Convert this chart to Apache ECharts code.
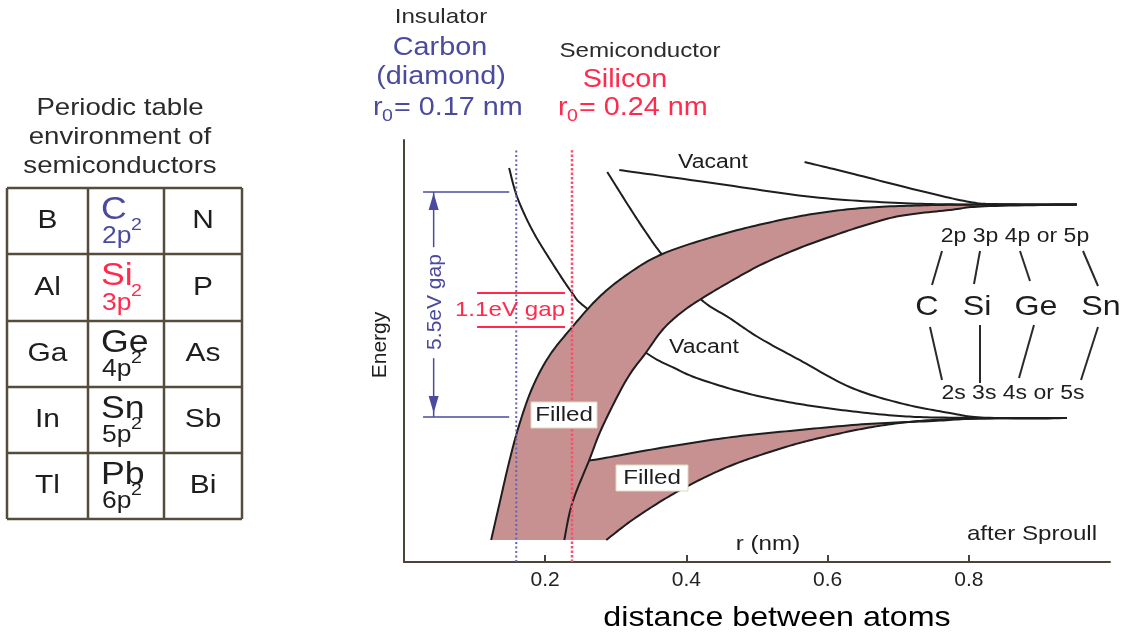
<!DOCTYPE html>
<html><head><meta charset="utf-8">
<script src="https://cdn.jsdelivr.net/npm/echarts@6/dist/echarts.min.js"></script>
<style>html,body{margin:0;padding:0;background:#fff}#c{width:1124px;height:636px}</style>
</head><body><div id="c"></div>
<script>
// ---------- data (x: atom distance r in nm, y: energy in arbitrary units 0..100) ----------
const xTicks = [0.2, 0.4, 0.6, 0.8];
// upper (p-derived) band, left/upper boundary
const upperBandLeft = [[0.1234,5.21],[0.1348,13.51],[0.1489,23.70],[0.1631,32.46],[0.1816,41.23],[0.2057,48.82],[0.2383,55.69],[0.2766,62.80],[0.3191,68.48],[0.3660,72.99],[0.4369,77.01],[0.5078,80.09],[0.5787,82.46],[0.6496,83.89],[0.7305,84.5],[0.8156,84.7],[0.953,84.7]];
// upper band, right/lower boundary
const upperBandRight = [[0.2270,5.21],[0.2383,13.98],[0.2624,24.17],[0.2809,31.99],[0.3149,43.13],[0.3433,49.76],[0.3660,54.98],[0.3901,58.77],[0.4184,62.09],[0.4610,66.35],[0.5078,70.62],[0.5603,74.41],[0.6028,77.01],[0.6496,79.62],[0.7021,81.99],[0.7730,83.41],[0.8227,84.3],[0.953,84.7]];
// lower (s-derived) filled band
const lowerBandTop = [[0.2624,24.17],[0.2766,24.41],[0.3716,27.25],[0.4652,29.62],[0.5603,31.28],[0.6553,32.70],[0.7489,33.41],[0.8156,34.0],[0.939,34.1]];
const lowerBandBottom = [[0.2865,5.21],[0.3234,9.95],[0.3716,15.17],[0.4184,19.43],[0.4652,22.99],[0.5135,25.83],[0.5603,28.20],[0.6071,30.09],[0.6553,31.75],[0.7021,32.94],[0.7489,33.65],[0.8156,34.0],[0.939,34.1]];
// vacant levels
const vacantCarbon = [[0.1489,93.36],[0.1603,86.49],[0.1816,78.67],[0.2099,70.85],[0.2383,63.74],[0.2582,60.19],[0.3433,49.53],[0.3830,45.97],[0.4184,43.36],[0.4894,39.81],[0.5603,37.44],[0.6312,35.78],[0.7021,34.60],[0.7730,34.2],[0.939,34.1]];
const vacantSilicon = [[0.2879,92.42],[0.3191,84.12],[0.3433,77.96],[0.3660,72.75],[0.4184,62.56],[0.4610,57.82],[0.5035,53.08],[0.5603,47.87],[0.6312,41.47],[0.7021,37.68],[0.7730,35.31],[0.8227,34.2],[0.939,34.1]];
const vacantSiliconUpper = [[0.3050,92.89],[0.4369,89.81],[0.5787,86.49],[0.7021,85.07],[0.8085,84.7],[0.953,84.7]];
const vacantCarbonUpper = [[0.5674,94.79],[0.6312,92.18],[0.7262,88.15],[0.8014,85.31],[0.844,84.8],[0.953,84.7]];
// equilibrium spacings and gaps
const rCarbon = 0.159, rSilicon = 0.238, rLineTop = 97.6;
const gapCarbon = [87.68, 34.36];   // 5.5 eV gap edges
const gapSilicon = [63.74, 55.69];  // 1.1 eV gap edges
const gapCarbonX = [0.027, 0.149], gapCarbonArrowX = 0.042, gapCarbonBreak = [74.6, 48.3];
const gapSiliconX = [0.1035, 0.228];
// periodic table
const tableLeft = ['B','Al','Ga','In','Tl'];
const tableMid = ['C','Si','Ge','Sn','Pb'];
const tableMidOrbital = ['2p','3p','4p','5p','6p'];
const tableRight = ['N','P','As','Sb','Bi'];
const groupElems = ['C','Si','Ge','Sn'];

// ---------- styles ----------
const FONT = '"Liberation Sans", Arial, Helvetica, sans-serif';
const SX = 1.15;
const INK = '#1e1e1e', AX = '#4a4436', BAND = '#c79191', BLUE = '#4a4a9e', RED = '#ff2a4c', TBL = '#554c3c';

function txt(text, x, y, size, color, align, extra) {
  return Object.assign({type:'text', x, y, scaleX:SX, z:100, silent:true,
    style:{text, x:0, y:0, fontSize:size, fontFamily:FONT, fill:color||INK, align:align||'center', verticalAlign:'middle'}}, extra||{});
}
function seg(x1,y1,x2,y2,color,w){ return {type:'line', z:100, silent:true, shape:{x1,y1,x2,y2}, style:{stroke:color||INK, lineWidth:w||2}}; }

const graphic = [];
// header
graphic.push(txt('Insulator', 441, 17, 21, '#2b2b2b'));
graphic.push(txt('Carbon', 440, 48, 25, BLUE));
graphic.push(txt('(diamond)', 441, 77, 25, BLUE));
graphic.push(txt('r', 373, 108, 25, BLUE, 'left'));
graphic.push(txt('0', 382, 116, 17, BLUE, 'left'));
graphic.push(txt('= 0.17 nm', 394, 108, 25, BLUE, 'left'));
graphic.push(txt('Semiconductor', 640, 51, 21, '#2b2b2b'));
graphic.push(txt('Silicon', 625, 80, 25, RED));
graphic.push(txt('r', 558, 108, 25, RED, 'left'));
graphic.push(txt('0', 567, 116, 17, RED, 'left'));
graphic.push(txt('= 0.24 nm', 579, 108, 25, RED, 'left'));
// table
graphic.push(txt('Periodic table', 120, 108, 24, '#2b2b2b'));
graphic.push(txt('environment of', 120, 137, 24, '#2b2b2b'));
graphic.push(txt('semiconductors', 120, 166, 24, '#2b2b2b'));
const colX = [7, 88, 164, 242], rowY = [188, 254, 321, 387, 453, 519];
colX.forEach(x => graphic.push(seg(x, rowY[0], x, rowY[rowY.length-1], TBL, 2.5)));
rowY.forEach(y => graphic.push(seg(colX[0], y, colX[colX.length-1], y, TBL, 2.5)));
tableMid.forEach((m, i) => {
  const cy = (rowY[i] + rowY[i+1]) / 2;
  const col = i === 0 ? BLUE : (i === 1 ? RED : INK);
  graphic.push(txt(tableLeft[i], (colX[0]+colX[1])/2, cy, 26));
  graphic.push(txt(tableRight[i], (colX[2]+colX[3])/2, cy, 26));
  graphic.push(txt(m, 101, cy - 11, 31, col, 'left'));
  graphic.push(txt(tableMidOrbital[i], 102, cy + 16, 23, col, 'left'));
  graphic.push(txt('2', 131, cy + 4, 17, col, 'left'));
});
// right group labels
graphic.push(txt('2p 3p 4p or 5p', 1015, 236, 20));
graphic.push(txt('2s 3s 4s or 5s', 1013, 393, 20));
const elX = [927, 977, 1036, 1101];
groupElems.forEach((e, i) => graphic.push(txt(e, elX[i], 307, 28)));
[[942,251,932,285],[980,251,974,284],[1020,251,1030,281],[1083,251,1098,286],
 [930,327,942,380],[980,325,980,383],[1034,325,1019,378],[1098,327,1081,380]]
  .forEach(s => graphic.push(seg(s[0], s[1], s[2], s[3], '#2a2a2a', 2)));
// band labels
graphic.push(txt('Vacant', 713, 162, 20));
graphic.push(txt('Vacant', 704, 347, 20));
graphic.push({type:'rect', z:99, silent:true, shape:{x:531, y:402, width:66, height:26}, style:{fill:'#fff', stroke:'#e2d8c0', lineWidth:1}});
graphic.push(txt('Filled', 564, 415, 21));
graphic.push({type:'rect', z:99, silent:true, shape:{x:616, y:465, width:72, height:26}, style:{fill:'#fff', stroke:'#e2d8c0', lineWidth:1}});
graphic.push(txt('Filled', 652, 478, 21));
graphic.push(txt('1.1eV gap', 510, 310, 21, RED));
graphic.push({type:'text', x:435, y:302, rotation:Math.PI/2, z:100, silent:true, style:{text:'5.5eV gap', fontSize:21, fontFamily:FONT, fill:BLUE, align:'center', verticalAlign:'middle'}});
graphic.push({type:'text', x:380, y:345, rotation:Math.PI/2, z:100, silent:true, style:{text:'Energy', fontSize:21, fontFamily:FONT, fill:INK, align:'center', verticalAlign:'middle'}});
graphic.push(txt('r (nm)', 768, 544, 21));
graphic.push(txt('after Sproull', 1032, 534, 21));
graphic.push(txt('distance between atoms', 777, 618, 28, '#000'));

// ---------- smooth curve rendering in pixel space (Catmull-Rom through the data points) ----------
function spline(pts, n) {
  n = n || 14;
  const out = [], m = pts.length;
  for (let i = 0; i < m - 1; i++) {
    const p0 = pts[Math.max(i-1, 0)], p1 = pts[i], p2 = pts[i+1], p3 = pts[Math.min(i+2, m-1)];
    for (let k = 0; k < n; k++) {
      const t = k / n, t2 = t*t, t3 = t2*t;
      const f = j => 0.5 * (2*p1[j] + (-p0[j]+p2[j])*t + (2*p0[j]-5*p1[j]+4*p2[j]-p3[j])*t2 + (-p0[j]+3*p1[j]-3*p2[j]+p3[j])*t3);
      out.push([f(0), f(1)]);
    }
  }
  out.push(pts[m-1]);
  return out;
}
const N = 14;
const bands = {type:'custom', z:2, silent:true, data:[[0,0]], renderItem:(p, api) => {
  const px = arr => arr.map(q => api.coord(q));
  const L = pts => ({type:'polyline', shape:{points:pts}, style:{stroke:INK, lineWidth:2, fill:null, lineJoin:'round'}});
  const uL = spline(px(upperBandLeft), N), uR = spline(px(upperBandRight), N);
  const lT = spline(px(lowerBandTop), N), lB = spline(px(lowerBandBottom), N);
  const upperPoly = uL.concat(uR.slice().reverse());
  const lowerPoly = lT.concat(lB.slice().reverse(), uR.slice(0, 2*N + 1));
  return {type:'group', children:[
    L(spline(px(vacantCarbon), N)),
    L(spline(px(vacantSilicon), N)),
    {type:'polygon', shape:{points:upperPoly}, style:{fill:BAND}},
    {type:'polygon', shape:{points:lowerPoly}, style:{fill:BAND}},
    L(uL), L(uR), L(lT), L(lB),
    L(spline(px(vacantSiliconUpper), N)),
    L(spline(px(vacantCarbonUpper), N))
  ]};
}};

const annotations = {type:'custom', z:6, silent:true, data:[[0,0]], renderItem:(p, api) => {
  const c = (x, y) => api.coord([x, y]);
  const L = (a, b, color, w) => ({type:'line', shape:{x1:a[0], y1:a[1], x2:b[0], y2:b[1]}, style:{stroke:color, lineWidth:w}});
  const ch = [];
  gapCarbon.forEach(v => ch.push(L(c(gapCarbonX[0], v), c(gapCarbonX[1], v), BLUE, 1.5)));
  ch.push(L(c(gapCarbonArrowX, gapCarbon[0]), c(gapCarbonArrowX, gapCarbonBreak[0]), BLUE, 1.5));
  ch.push(L(c(gapCarbonArrowX, gapCarbonBreak[1]), c(gapCarbonArrowX, gapCarbon[1]), BLUE, 1.5));
  const t = c(gapCarbonArrowX, gapCarbon[0]), b = c(gapCarbonArrowX, gapCarbon[1]);
  ch.push({type:'polygon', shape:{points:[[t[0], t[1]+1], [t[0]-5, t[1]+18], [t[0]+5, t[1]+18]]}, style:{fill:BLUE}});
  ch.push({type:'polygon', shape:{points:[[b[0], b[1]-4], [b[0]-5, b[1]-21], [b[0]+5, b[1]-21]]}, style:{fill:BLUE}});
  gapSilicon.forEach(v => ch.push(L(c(gapSiliconX[0], v), c(gapSiliconX[1], v), RED, 2)));
  return {type:'group', children:ch};
}};

const option = {
  animation:false,
  grid:{left:404, right:14, top:140, bottom:74},
  xAxis:{type:'value', min:0, max:1, interval:0.2,
    axisLine:{show:true, lineStyle:{color:AX, width:2}},
    axisTick:{show:true, inside:true, length:7, customValues:xTicks, lineStyle:{color:AX, width:2}},
    axisLabel:{customValues:xTicks, formatter:v => v.toFixed(1), fontSize:21, fontFamily:FONT, color:'#222', margin:8},
    splitLine:{show:false}},
  yAxis:{type:'value', min:0, max:100,
    axisLine:{show:true, onZero:false, lineStyle:{color:AX, width:2}},
    axisTick:{show:false}, axisLabel:{show:false}, splitLine:{show:false}},
  graphic,
  series:[
    bands,
    {type:'line', data:[[rCarbon, 0], [rCarbon, rLineTop]], symbol:'none', z:5, silent:true, lineStyle:{color:'#6464b4', width:2, type:[2, 2.5]}},
    {type:'line', data:[[rSilicon, 0], [rSilicon, rLineTop]], symbol:'none', z:5, silent:true, lineStyle:{color:'#ff4d6d', width:2.5, type:[2.5, 2]}},
    annotations
  ]
};
const chart = echarts.init(document.getElementById('c'));
chart.setOption(option);
</script>
</body></html>
